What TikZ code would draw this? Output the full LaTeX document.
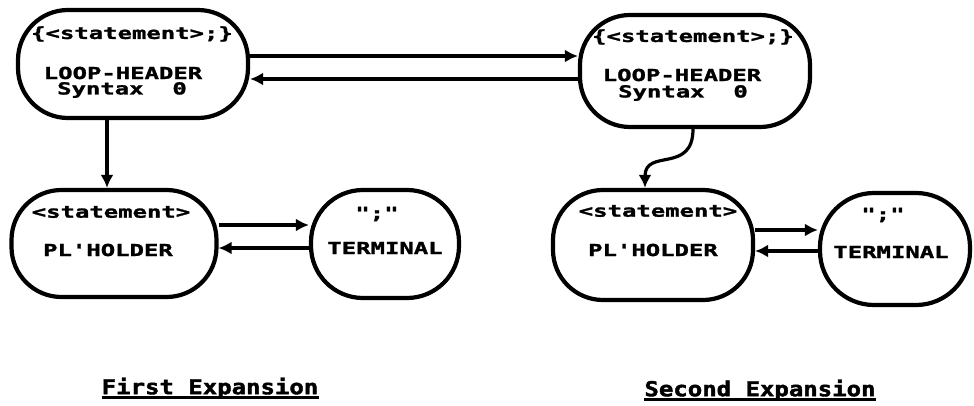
\documentclass[tikz,border=0pt]{standalone}
\usepackage{fontspec}
\usetikzlibrary{arrows.meta}
\newfontfamily\boxfont[FakeStretch=1.45,FakeBold=1.6]{DejaVu Sans Mono}
\newfontfamily\capfont[FakeStretch=1.17,FakeBold=2]{DejaVu Sans Mono}
\begin{document}
\begin{tikzpicture}[x=1pt,y=-1pt,
  blob/.style={draw,line width=4.2pt,rectangle,rounded corners=50pt,inner sep=0pt},
  lbl/.style={inner sep=0pt,font=\boxfont\bfseries\fontsize{16.5}{18}\selectfont},
  captext/.style={inner sep=0pt,font=\capfont\bfseries\fontsize{20.5}{22}\selectfont},
  arr/.style={line width=3.2pt,-{Latex[length=13pt,width=13pt]}}]
\useasboundingbox[fill=white] (0,0) rectangle (974,406);
% boxes
\node[blob,minimum width=230pt,minimum height=108pt] (a1) at (133,64) {};
\node[blob,minimum width=230pt,minimum height=112pt] (a2) at (695,71) {};
\node[blob,minimum width=205pt,minimum height=107pt] (b1) at (114,243.5) {};
\node[blob,minimum width=148pt,minimum height=108pt,rounded corners=52pt] (t1) at (385,244) {};
\node[blob,minimum width=200pt,minimum height=110pt] (b2) at (653,245) {};
\node[blob,minimum width=150pt,minimum height=112pt,rounded corners=54pt] (t2) at (895,249) {};
% texts
\node[lbl] (a1l1) at (132,34) {\{<statement>;\}};
\node[lbl] (a1l2) at (123,73) {LOOP-HEADER};
\node[lbl] (a1l3) at (122,90) {Syntax~~0};
\node[lbl] (a2l1) at (693,37) {\{<statement>;\}};
\node[lbl] (a2l2) at (682,75) {LOOP-HEADER};
\node[lbl] (a2l3) at (683,93) {Syntax~~0};
\node[lbl] (b1l1) at (111,212) {<statement>};
\node[lbl] (b1l2) at (108,250) {PL'HOLDER};
\node[lbl] (t1l1) at (377,214) {";"};
\node[lbl] (t1l2) at (385,248) {TERMINAL};
\node[lbl] (b2l1) at (658,211) {<statement>};
\node[lbl] (b2l2) at (653,250) {PL'HOLDER};
\node[lbl] (t2l1) at (883,215) {";"};
\node[lbl] (t2l2) at (891,252) {TERMINAL};
% captions
\node[captext] (c1) at (210,388) {First Expansion};
\node[captext] (c2) at (760,390) {Second Expansion};
\draw[line width=2.8pt] ([yshift=-3.5pt]c1.base west) -- ([yshift=-3.5pt]c1.base east);
\draw[line width=2.8pt] ([yshift=-3.5pt]c2.base west) -- ([yshift=-3.5pt]c2.base east);
% connectors
\draw[arr] ([yshift=8pt]a1.east) -- ([yshift=15pt]a2.west);
\draw[arr] ([yshift=-8pt]a2.west) -- ([yshift=-15pt]a1.east);
\draw[arr] ([xshift=-26pt]a1.south) coordinate (s1) -- (s1 |- b1.north);
\draw[arr] ([xshift=-2pt]a2.south) .. controls +(0,45) and +(0,-40) .. ([xshift=-8pt]b2.north);
\draw[arr] ([yshift=18.5pt]b1.east) -- ([yshift=19pt]t1.west);
\draw[arr] ([yshift=-4pt]t1.west) -- ([yshift=-4.5pt]b1.east);
\draw[arr] ([yshift=15pt]b2.east) -- ([yshift=19pt]t2.west);
\draw[arr] ([yshift=-2pt]t2.west) -- ([yshift=-6pt]b2.east);
\end{tikzpicture}
\end{document}
